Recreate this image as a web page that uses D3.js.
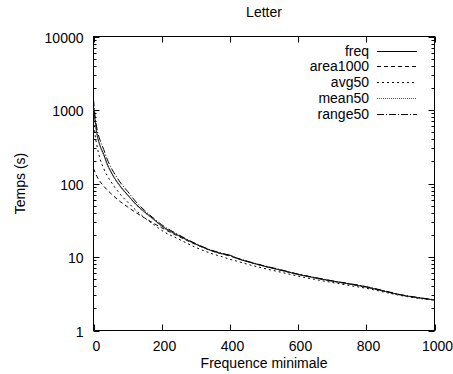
<!DOCTYPE html>
<html><head><meta charset="utf-8">
<script src="https://cdn.jsdelivr.net/npm/d3@7"></script>
<style>body{margin:0;background:#fff}svg{display:block}text{font-family:"Liberation Sans",Arial,sans-serif;fill:#000}</style>
</head><body><svg id="c" width="453" height="374"></svg>
<script>
const title = "Letter";
const xLabel = "Frequence minimale";
const yLabel = "Temps (s)";
const xTicks = [0,200,400,600,800,1000];
const yTicks = [1,10,100,1000,10000];
const seriesNames = ["freq","area1000","avg50","mean50","range50"];
const freqX = [0,5,10,20,30,40,50,60,70,80,100,125,150,175,200,250,300,350,380,400,420,450,500,550,600,650,700,750,800,850,900,950,1000];
const freq     = [1100,700,480,320,250,185,148,122,104,90,70,52,41,33,26.5,19.5,15,12,11,10.6,9.6,8.7,7.5,6.6,5.8,5.2,4.7,4.3,3.9,3.45,3.05,2.8,2.6];
const area1000 = [160,140,125,105,92,82,74,67,61,56,48,40,34,29,25,19,14.8,12,10.9,10.3,9.6,8.7,7.5,6.6,5.8,5.2,4.7,4.3,3.9,3.45,3.05,2.8,2.6];
const avg50    = [850,450,330,210,160,128,108,92,80,70,56,43,34,28,23,17.5,13.5,11,10,9.3,8.8,8,7,6.2,5.5,4.95,4.5,4.1,3.75,3.35,3,2.75,2.6];
const mean50   = [1000,650,460,310,240,180,145,120,102,88,69,51,40,32.5,26,19.3,14.9,12,11,10.5,9.6,8.7,7.5,6.6,5.8,5.2,4.7,4.3,3.9,3.45,3.05,2.8,2.6];
const range50  = [1400,800,560,380,290,215,170,140,118,101,78,56,43,34,27.5,20,15.2,12.2,11.1,10.5,9.7,8.8,7.6,6.7,5.85,5.25,4.75,4.35,3.95,3.5,3.08,2.82,2.62];
const seriesValues = [freq, area1000, avg50, mean50, range50];
const dashes = [null, "4,3", "2,3", "1,1", "7,2,1,2"];
const strokes = ["#000","#000","#000","#555","#000"];

const svg = d3.select("#c");
const L=93.5, R=434.5, T=36.5, B=330.5;
const x = d3.scaleLinear().domain([0,1000]).range([L,R]);
const y = d3.scaleLog().domain([1,10000]).range([B,T]);
const fs = 14;

svg.append("rect").attr("x",L).attr("y",T).attr("width",R-L).attr("height",B-T).attr("fill","none").attr("stroke","#000").attr("stroke-width",1);

const g = svg.append("g").attr("stroke","#000").attr("stroke-width",1);
xTicks.forEach(v=>{
  const px = Math.round(x(v))+0.5;
  g.append("line").attr("x1",px).attr("x2",px).attr("y1",B).attr("y2",B-6);
  g.append("line").attr("x1",px).attr("x2",px).attr("y1",T).attr("y2",T+6);
  svg.append("text").attr("x",px+2).attr("y",B+20).attr("text-anchor","middle").attr("font-size",fs).text(v);
});
const minor = [];
for (let d=1; d<10000; d*=10) for (let k=2;k<10;k++) minor.push(d*k);
yTicks.forEach(v=>{
  const py = Math.round(y(v))+0.5;
  g.append("line").attr("x1",L).attr("x2",L+6).attr("y1",py).attr("y2",py);
  g.append("line").attr("x1",R).attr("x2",R-6).attr("y1",py).attr("y2",py);
  svg.append("text").attr("x",L-10).attr("y",py+5).attr("text-anchor","end").attr("font-size",fs).text(v);
});
minor.forEach(v=>{
  const py = Math.round(y(v))+0.5;
  g.append("line").attr("x1",L).attr("x2",L+3).attr("y1",py).attr("y2",py);
  g.append("line").attr("x1",R).attr("x2",R-3).attr("y1",py).attr("y2",py);
});

svg.append("text").attr("x",(L+R)/2).attr("y",17).attr("text-anchor","middle").attr("font-size",fs).text(title);
svg.append("text").attr("x",(L+R)/2).attr("y",368).attr("text-anchor","middle").attr("font-size",fs).text(xLabel);
svg.append("text").attr("transform",`translate(25,${(T+B)/2}) rotate(-90)`).attr("text-anchor","middle").attr("font-size",fs).text(yLabel);

const line = d3.line().x((d,i)=>x(freqX[i])).y(d=>y(d)).curve(d3.curveMonotoneX);
svg.append("defs").append("clipPath").attr("id","cp").append("rect").attr("x",L).attr("y",T).attr("width",R-L).attr("height",B-T);
seriesValues.forEach((vals,i)=>{
  svg.append("path").attr("clip-path","url(#cp)").attr("d",line(vals)).attr("fill","none")
    .attr("stroke",strokes[i]).attr("stroke-width",1).attr("stroke-dasharray",dashes[i]);
});

seriesNames.forEach((n,i)=>{
  const ly = 50.5 + i*15.8;
  svg.append("text").attr("x",369).attr("y",ly+5).attr("text-anchor","end").attr("font-size",fs).text(n);
  svg.append("line").attr("x1",377).attr("x2",417).attr("y1",Math.round(ly)+0.5).attr("y2",Math.round(ly)+0.5)
    .attr("stroke",strokes[i]).attr("stroke-width",1).attr("stroke-dasharray",dashes[i]);
});
</script></body></html>
